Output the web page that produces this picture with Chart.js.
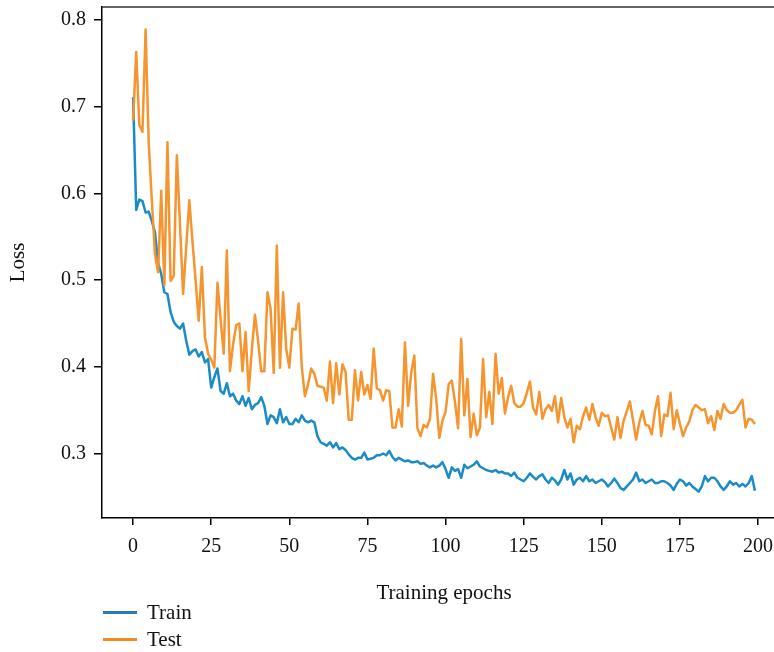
<!DOCTYPE html>
<html>
<head>
<meta charset="utf-8">
<script src="https://cdn.jsdelivr.net/npm/chart.js@4.4.1/dist/chart.umd.min.js"></script>
<style>
  html, body { margin: 0; padding: 0; background: #fff; overflow: hidden; }
  #wrap { position: relative; width: 790px; height: 652px; }
  #legend { position: absolute; left: 103px; top: 599px; font-family: "Liberation Serif", serif; font-size: 21px; color: #111; }
  .item { display: flex; align-items: center; height: 27px; }
  .swatch { width: 34px; height: 3px; margin-right: 10px; }
</style>
</head>
<body>
<div id="wrap">
  <canvas id="chart" width="790" height="606" style="width:790px;height:606px"></canvas>
  <div id="legend"></div>
</div>
<script>
const epochs = Array.from({ length: 200 }, (_, i) => i);

const trainLoss = [
  0.711, 0.581, 0.593, 0.591, 0.578, 0.579, 0.568, 0.555, 0.520, 0.507,
  0.486, 0.484, 0.463, 0.452, 0.447, 0.444, 0.450, 0.430, 0.414, 0.418,
  0.420, 0.412, 0.417, 0.405, 0.409, 0.376, 0.388, 0.398, 0.372, 0.369,
  0.381, 0.366, 0.369, 0.361, 0.357, 0.366, 0.355, 0.364, 0.351, 0.356,
  0.358, 0.365, 0.355, 0.334, 0.344, 0.342, 0.335, 0.351, 0.336, 0.342,
  0.334, 0.334, 0.340, 0.336, 0.344, 0.338, 0.336, 0.338, 0.336, 0.320,
  0.313, 0.311, 0.309, 0.313, 0.307, 0.312, 0.305, 0.307, 0.304, 0.299,
  0.295, 0.293, 0.295, 0.295, 0.301, 0.293, 0.294, 0.295, 0.298, 0.298,
  0.300, 0.298, 0.303, 0.296, 0.292, 0.295, 0.293, 0.291, 0.292, 0.290,
  0.290, 0.291, 0.288, 0.289, 0.286, 0.284, 0.286, 0.284, 0.286, 0.290,
  0.282, 0.272, 0.284, 0.280, 0.282, 0.272, 0.287, 0.283, 0.285, 0.287,
  0.291, 0.285, 0.283, 0.281, 0.280, 0.279, 0.281, 0.278, 0.279, 0.277,
  0.277, 0.274, 0.278, 0.272, 0.270, 0.268, 0.272, 0.277, 0.273, 0.270,
  0.274, 0.276, 0.270, 0.266, 0.272, 0.269, 0.264, 0.270, 0.281, 0.270,
  0.277, 0.264, 0.270, 0.272, 0.268, 0.274, 0.268, 0.270, 0.266, 0.268,
  0.270, 0.267, 0.262, 0.266, 0.271, 0.266, 0.260, 0.258, 0.262, 0.266,
  0.270, 0.278, 0.268, 0.270, 0.266, 0.268, 0.270, 0.266, 0.266, 0.268,
  0.268, 0.266, 0.263, 0.258, 0.265, 0.270, 0.268, 0.263, 0.266, 0.262,
  0.259, 0.256, 0.262, 0.274, 0.268, 0.272, 0.272, 0.268, 0.262, 0.258,
  0.262, 0.268, 0.264, 0.266, 0.262, 0.265, 0.262, 0.266, 0.274, 0.257
];

const testLoss = [
  0.684, 0.763, 0.679, 0.671, 0.789, 0.658, 0.592, 0.530, 0.509, 0.603,
  0.494, 0.659, 0.499, 0.505, 0.644, 0.565, 0.484, 0.538, 0.592, 0.545,
  0.500, 0.453, 0.515, 0.434, 0.415, 0.408, 0.399, 0.497, 0.455, 0.415,
  0.534, 0.395, 0.426, 0.448, 0.450, 0.395, 0.440, 0.372, 0.420, 0.460,
  0.430, 0.395, 0.395, 0.486, 0.467, 0.393, 0.540, 0.399, 0.486, 0.421,
  0.399, 0.444, 0.443, 0.473, 0.399, 0.366, 0.380, 0.398, 0.392, 0.378,
  0.377, 0.376, 0.361, 0.406, 0.358, 0.404, 0.368, 0.403, 0.394, 0.339,
  0.339, 0.396, 0.361, 0.394, 0.368, 0.379, 0.363, 0.421, 0.375, 0.373,
  0.361, 0.373, 0.372, 0.330, 0.330, 0.351, 0.331, 0.428, 0.355, 0.393,
  0.413, 0.329, 0.320, 0.333, 0.330, 0.340, 0.392, 0.363, 0.318, 0.338,
  0.348, 0.380, 0.384, 0.360, 0.329, 0.432, 0.344, 0.386, 0.319, 0.346,
  0.321, 0.330, 0.409, 0.342, 0.371, 0.334, 0.415, 0.369, 0.387, 0.346,
  0.365, 0.378, 0.358, 0.354, 0.354, 0.358, 0.370, 0.383, 0.353, 0.345,
  0.371, 0.340, 0.351, 0.356, 0.349, 0.366, 0.336, 0.364, 0.342, 0.330,
  0.340, 0.313, 0.332, 0.328, 0.343, 0.353, 0.339, 0.357, 0.342, 0.332,
  0.347, 0.343, 0.344, 0.330, 0.316, 0.342, 0.318, 0.338, 0.349, 0.360,
  0.338, 0.316, 0.336, 0.349, 0.333, 0.332, 0.322, 0.349, 0.366, 0.320,
  0.345, 0.343, 0.370, 0.328, 0.350, 0.334, 0.320, 0.330, 0.337, 0.350,
  0.356, 0.353, 0.350, 0.351, 0.335, 0.343, 0.327, 0.349, 0.340, 0.357,
  0.350, 0.347, 0.347, 0.350, 0.356, 0.362, 0.330, 0.340, 0.339, 0.334
];

const xTicks = [0, 25, 50, 75, 100, 125, 150, 175, 200];
const yTicks = [0.3, 0.4, 0.5, 0.6, 0.7, 0.8];

const seriesNames = ['Train', 'Test'];
const seriesColors = ['#1b8bc8', '#f5952f'];
const legendColors = ['#2b7bba', '#f28a1f'];

const tickFont = { family: '"Liberation Serif", "Times New Roman", serif', size: 20 };
const titleFont = { family: '"Liberation Serif", "Times New Roman", serif', size: 21 };

// matplotlib-style box: top and right spines
const frame = {
  id: 'frame',
  afterDraw(chart) {
    const { ctx, chartArea: a } = chart;
    ctx.save();
    ctx.strokeStyle = '#333';
    ctx.lineWidth = 1.5;
    ctx.beginPath();
    ctx.moveTo(a.left, a.top);
    ctx.lineTo(a.right, a.top);
    ctx.lineTo(a.right, a.bottom);
    ctx.stroke();
    ctx.restore();
  }
};

const ctx = document.getElementById('chart').getContext('2d');
const chart = new Chart(ctx, {
  type: 'line',
  data: {
    datasets: [
      {
        label: seriesNames[0],
        data: epochs.map((e, i) => ({ x: e, y: trainLoss[i] })),
        borderColor: seriesColors[0],
        order: 1
      },
      {
        label: seriesNames[1],
        data: epochs.map((e, i) => ({ x: e, y: testLoss[i] })),
        borderColor: seriesColors[1],
        order: 0
      }
    ]
  },
  options: {
    responsive: false,
    animation: false,
    layout: { padding: { left: 0, right: 4, top: 7, bottom: 0 } },
    plugins: { legend: { display: false }, tooltip: { enabled: false } },
    elements: {
      point: { radius: 0 },
      line: { tension: 0, borderWidth: 2.5, borderJoinStyle: 'round' }
    },
    scales: {
      x: {
        type: 'linear',
        min: -9.95,
        max: 208.95,
        afterFit: s => { s.height = 88; s.paddingLeft = 0; s.paddingRight = 0; },
        afterBuildTicks: s => { s.ticks = xTicks.map(v => ({ value: v })); },
        grid: { display: true, drawOnChartArea: false, drawTicks: true, tickLength: 7, color: '#000', lineWidth: 1.5 },
        border: { display: true, color: '#000', width: 1.5 },
        ticks: { color: '#111', font: tickFont, padding: 10, maxRotation: 0, autoSkip: false },
        title: { display: true, text: 'Training epochs', color: '#111', font: titleFont, padding: { top: 0, bottom: 0 } }
      },
      y: {
        type: 'linear',
        min: 0.2256,
        max: 0.815,
        afterFit: s => { s.width = 102; s.paddingTop = 0; s.paddingBottom = 0; },
        afterBuildTicks: s => { s.ticks = yTicks.map(v => ({ value: v })); },
        grid: { display: true, drawOnChartArea: false, drawTicks: true, tickLength: 8, color: '#000', lineWidth: 1.5 },
        border: { display: true, color: '#000', width: 1.5 },
        ticks: { color: '#111', font: tickFont, padding: 8, callback: v => v.toFixed(1) },
        title: { display: true, text: 'Loss', color: '#111', font: titleFont, padding: { top: 6, bottom: 0 } }
      }
    }
  },
  plugins: [frame]
});

// legend below the axes, stacked like the original
const legend = document.getElementById('legend');
seriesNames.forEach((name, i) => {
  const item = document.createElement('div');
  item.className = 'item';
  const sw = document.createElement('span');
  sw.className = 'swatch';
  sw.style.background = legendColors[i];
  const label = document.createElement('span');
  label.textContent = name;
  item.appendChild(sw);
  item.appendChild(label);
  legend.appendChild(item);
});
</script>
</body>
</html>
